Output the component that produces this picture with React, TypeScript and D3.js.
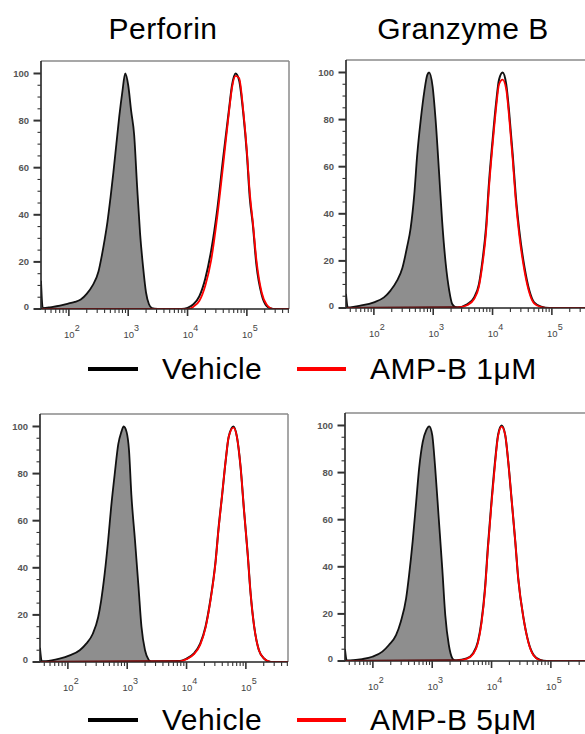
import React from 'react';
import * as d3 from 'd3';

// titles and legend labels
const titles = ['Perforin', 'Granzyme B'];
const legendRows = [
  ['Vehicle', 'AMP-B 1\u03bcM'],
  ['Vehicle', 'AMP-B 5\u03bcM'],
];

// x values are log10(fluorescence), y values are % of max
// top left: Perforin, 1uM
const tlCtrlX = [1.53, 1.56, 1.7, 1.85, 2.0, 2.1, 2.2, 2.3, 2.4, 2.5, 2.55, 2.6, 2.65, 2.7, 2.75, 2.8, 2.85, 2.9, 2.95, 3.0, 3.05, 3.1, 3.15, 3.2, 3.25, 3.3, 3.35, 3.4, 3.5];
const tlCtrlY = [12, 0.4, 0.8, 1.4, 2.4, 3.0, 4.0, 6.4, 10, 16, 22, 29, 37, 47, 58, 70, 82, 92, 100, 95, 84, 74, 52, 32, 18, 7, 2, 0.4, 0];
const tlVehX = [1.53, 3.9, 4.0, 4.1, 4.2, 4.3, 4.4, 4.5, 4.6, 4.7, 4.75, 4.81, 4.87, 4.94, 5.0, 5.05, 5.1, 5.16, 5.25, 5.33, 5.44, 5.71];
const tlVehY = [0, 0, 0.5, 2, 5.5, 13, 25, 42, 64, 85, 95, 100, 97, 83, 66, 47, 36, 19, 6, 1.4, 0, 0];
const tlTrtX = [1.53, 4.0, 4.1, 4.2, 4.3, 4.4, 4.5, 4.6, 4.7, 4.75, 4.81, 4.87, 4.94, 5.0, 5.05, 5.1, 5.16, 5.25, 5.33, 5.44, 5.71];
const tlTrtY = [0, 0, 1, 3.5, 10, 21, 39, 61, 84, 94, 99, 98, 84, 67, 49, 37, 21, 7, 2, 0, 0];

// top right: Granzyme B, 1uM
const trCtrlX = [1.53, 1.56, 1.6, 1.77, 2.0, 2.17, 2.28, 2.39, 2.48, 2.56, 2.62, 2.68, 2.73, 2.79, 2.85, 2.9, 2.93, 2.99, 3.04, 3.1, 3.15, 3.21, 3.27, 3.32, 3.38, 3.45];
const trCtrlY = [6, 0.3, 0.3, 1, 2.4, 4.5, 7.4, 11.6, 17, 26, 34, 48, 65, 80, 92, 99, 100, 94, 80, 57, 37, 19, 7.4, 1.7, 0.3, 0];
const trVehX = [1.53, 3.41, 3.58, 3.69, 3.77, 3.83, 3.89, 3.94, 4.0, 4.06, 4.11, 4.17, 4.23, 4.28, 4.34, 4.39, 4.45, 4.54, 4.62, 4.7, 4.82, 4.96, 5.71];
const trVehY = [0, 0.3, 1.7, 4.5, 10, 20, 34, 53, 71, 87, 97, 100, 95, 83, 65, 48, 33, 17, 7.4, 2.4, 0.6, 0, 0];
const trTrtY = [0, 0.2, 1.3, 3.8, 9, 18.5, 32, 51, 69, 85, 95, 97, 93, 81, 63, 46, 31, 15.5, 6.5, 2, 0.4, 0, 0];

// bottom left: Perforin, 5uM
const blCtrlX = [1.53, 1.56, 1.63, 1.86, 2.03, 2.2, 2.31, 2.42, 2.51, 2.56, 2.62, 2.68, 2.73, 2.79, 2.85, 2.9, 2.94, 2.99, 3.03, 3.07, 3.13, 3.19, 3.24, 3.3, 3.36, 3.41];
const blCtrlY = [6, 0.4, 0.4, 1.4, 2.8, 5, 7.8, 12, 19, 26, 37.5, 52, 66, 80, 92.6, 97.6, 100, 97.6, 90, 71, 52, 32, 15, 5, 1, 0];
const blVehX = [1.53, 3.89, 4.0, 4.12, 4.23, 4.32, 4.4, 4.49, 4.54, 4.6, 4.66, 4.71, 4.79, 4.85, 4.91, 4.97, 5.03, 5.08, 5.14, 5.22, 5.31, 5.42, 5.71];
const blVehY = [0, 0.4, 1.4, 3.5, 7.8, 15, 26, 43, 57, 71, 85.6, 95.5, 100, 95.5, 83, 64, 46, 29, 15, 5, 1.4, 0, 0];
const blTrtY = [0, 0.3, 1.2, 3.2, 7.3, 14.5, 25.5, 42.5, 56.5, 71, 85.6, 95.5, 99.5, 95.5, 83, 64, 46, 29, 15, 5, 1.4, 0, 0];

// bottom right: Granzyme B, 5uM
const brCtrlX = [1.53, 1.56, 1.62, 1.82, 1.99, 2.16, 2.27, 2.39, 2.47, 2.56, 2.61, 2.67, 2.73, 2.78, 2.84, 2.9, 2.95, 3.0, 3.05, 3.11, 3.17, 3.22, 3.28, 3.34, 3.39];
const brCtrlY = [5, 0.3, 0.3, 0.8, 1.8, 4, 6.8, 11, 16.7, 26.6, 36.5, 50.7, 67.7, 82, 93, 98, 99.6, 96, 82, 60.6, 39, 19.5, 6.8, 1.1, 0];
const brVehX = [1.53, 3.41, 3.58, 3.69, 3.77, 3.83, 3.89, 3.94, 4.0, 4.06, 4.11, 4.17, 4.23, 4.28, 4.34, 4.4, 4.45, 4.54, 4.62, 4.71, 4.82, 4.93, 5.71];
const brVehY = [0, 0.3, 1.1, 3.3, 8.2, 16.7, 31, 49, 68, 85, 96, 100, 96, 85, 68, 50.7, 35, 18, 8.2, 2.5, 0.4, 0, 0];
const brTrtY = [0, 0.2, 0.9, 3, 7.6, 16, 30, 48, 67, 84, 95.5, 99.5, 96, 85, 68, 50.7, 35, 18, 8, 2.3, 0.3, 0, 0];

const xTickMajor = [2, 3, 4, 5];

const W = 248;
const H = 248;
const FONT = '"Liberation Sans", Arial, sans-serif';

const zip = (xs, ys) => xs.map((v, i) => [v, ys[i]]);

function Panel({ left, top, ctrl, veh, trt, clipId }) {
  const x = d3.scaleLog().domain([10 ** 1.53, 10 ** 5.71]).range([0, W]);
  const y = d3.scaleLinear().domain([0, 105.3]).range([H, 0]);

  const area = d3.area()
    .x(d => x(10 ** d[0]))
    .y0(H)
    .y1(d => y(d[1]))
    .curve(d3.curveMonotoneX);
  const line = d3.line()
    .x(d => x(10 ** d[0]))
    .y(d => y(d[1]))
    .curve(d3.curveMonotoneX);

  const xTicks = x.ticks();
  const yTicks = d3.range(0, 101, 5);

  return (
    <g transform={`translate(${left},${top})`}>
      <clipPath id={clipId}>
        <rect x={0} y={-2} width={W} height={H + 2} />
      </clipPath>
      {/* frame */}
      <line x1={0} x2={W} y1={0} y2={0} stroke="#8a8a8a" strokeWidth={1.5} />
      <line x1={W} x2={W} y1={0} y2={H} stroke="#8a8a8a" strokeWidth={1.5} />
      <g clipPath={`url(#${clipId})`}>
        <path d={area(ctrl)} fill="#8e8e8e" stroke="none" />
        <path d={line(ctrl)} fill="none" stroke="#111" strokeWidth={1.8} />
        <path d={line(veh)} fill="none" stroke="#111" strokeWidth={2} />
        <path d={line(trt)} fill="none" stroke="#f00" strokeWidth={1.8} />
      </g>
      {/* axes */}
      <line x1={0} x2={W} y1={H} y2={H} stroke="#222" strokeWidth={1.6} />
      <line x1={0} x2={0} y1={0} y2={H} stroke="#222" strokeWidth={1.6} />
      {xTicks.map((t, i) => {
        const major = xTickMajor.includes(Math.round(Math.log10(t) * 1000) / 1000);
        return (
          <line key={'xt' + i} x1={x(t)} x2={x(t)} y1={H} y2={H + (major ? 7 : 4)}
            stroke="#333" strokeWidth={major ? 1.6 : 1.1} />
        );
      })}
      {xTickMajor.map(p => (
        <text key={'xl' + p} x={x(10 ** p) + 3} y={H + 29} textAnchor="middle"
          fontFamily={FONT} fontSize={9.5} fill="#444">
          10<tspan fontSize={9} dy={-7}>{p}</tspan>
        </text>
      ))}
      {yTicks.map(v => {
        const major = v % 20 === 0;
        return (
          <line key={'yt' + v} x1={major ? -7.5 : -3.5} x2={0} y1={y(v)} y2={y(v)}
            stroke="#333" strokeWidth={major ? 2 : 1.1} />
        );
      })}
      {yTicks.filter(v => v % 20 === 0).map(v => (
        <text key={'yl' + v} x={-12} y={y(v) - (v === 0 ? 2 : 0)} dy="0.35em" textAnchor="end"
          fontFamily={FONT} fontSize={9.5} fontWeight="bold" fill="#555">{v}</text>
      ))}
    </g>
  );
}

function Legend({ y, labels }) {
  return (
    <g fontFamily={FONT} fontSize={30} letterSpacing={0.5}>
      <line x1={88} x2={138} y1={y} y2={y} stroke="#000" strokeWidth={4} />
      <text x={162} y={y + 9.5}>{labels[0]}</text>
      <line x1={297} x2={346} y1={y} y2={y} stroke="#f00" strokeWidth={4} />
      <text x={370} y={y + 9.5}>{labels[1]}</text>
    </g>
  );
}

export default function App() {
  return (
    <svg width={585} height={734} style={{ position: 'absolute', left: 0, top: 0, background: '#fff' }}>
      <text x={163} y={39} textAnchor="middle" fontFamily={FONT} fontSize={30} letterSpacing={0.5}>{titles[0]}</text>
      <text x={463} y={39} textAnchor="middle" fontFamily={FONT} fontSize={30} letterSpacing={0.5}>{titles[1]}</text>

      <Panel left={41} top={61} clipId="c1"
        ctrl={zip(tlCtrlX, tlCtrlY)} veh={zip(tlVehX, tlVehY)} trt={zip(tlTrtX, tlTrtY)} />
      <Panel left={346} top={60} clipId="c2"
        ctrl={zip(trCtrlX, trCtrlY)} veh={zip(trVehX, trVehY)} trt={zip(trVehX, trTrtY)} />
      <Legend y={369} labels={legendRows[0]} />

      <Panel left={40} top={414} clipId="c3"
        ctrl={zip(blCtrlX, blCtrlY)} veh={zip(blVehX, blVehY)} trt={zip(blVehX, blTrtY)} />
      <Panel left={345} top={413} clipId="c4"
        ctrl={zip(brCtrlX, brCtrlY)} veh={zip(brVehX, brVehY)} trt={zip(brVehX, brTrtY)} />
      <Legend y={720} labels={legendRows[1]} />
    </svg>
  );
}
